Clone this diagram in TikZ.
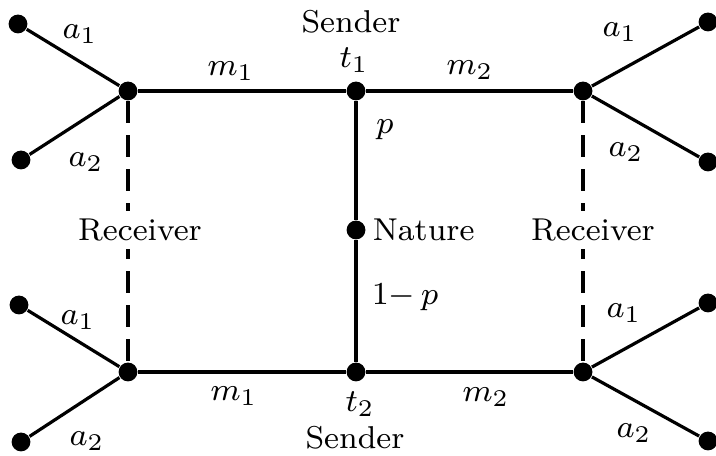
\documentclass[tikz,border=0pt]{standalone}
\usetikzlibrary{positioning}

\begin{document}
\begin{tikzpicture}[x=0.25pt, y=-0.25pt,
  every node/.style={font=\fontsize{7.9}{10}\selectfont},
  dot/.style={circle, fill=black, inner sep=0pt, minimum size=4.7pt},
  edge/.style={line width=0.8pt},
  info/.style={edge, dash pattern=on 5.5pt off 3pt},
  lbl/.style={inner sep=1pt},
  who/.style={fill=white, inner sep=2pt}]

\useasboundingbox (0,0) rectangle (716,456);

%% --- Decision nodes ---
\node[dot] (RU)  at (128, 91) {};
\node[dot] (T1)  at (356, 91) {};
\node[dot] (SU)  at (583, 91) {};
\node[dot] (NAT) at (356,230) {};
\node[dot] (RD)  at (128,372) {};
\node[dot] (T2)  at (356,372) {};
\node[dot] (SD)  at (583,372) {};

%% --- Terminal nodes ---
\node[dot] (LUa) at ( 18, 24) {};
\node[dot] (LUb) at ( 21,160) {};
\node[dot] (RUa) at (708, 22) {};
\node[dot] (RUb) at (708,162) {};
\node[dot] (LDa) at ( 19,305) {};
\node[dot] (LDb) at ( 21,442) {};
\node[dot] (RDa) at (708,303) {};
\node[dot] (RDb) at (708,441) {};

%% --- Tree edges ---
\draw[edge] (NAT) -- (T1);  \draw[edge] (NAT) -- (T2);
\draw[edge] (T1) -- (RU);   \draw[edge] (T1) -- (SU);
\draw[edge] (T2) -- (RD);   \draw[edge] (T2) -- (SD);
\draw[edge] (RU) -- (LUa);  \draw[edge] (RU) -- (LUb);
\draw[edge] (SU) -- (RUa);  \draw[edge] (SU) -- (RUb);
\draw[edge] (RD) -- (LDa);  \draw[edge] (RD) -- (LDb);
\draw[edge] (SD) -- (RDa);  \draw[edge] (SD) -- (RDb);

%% --- Information sets ---
\draw[info] (RU) -- (RD);
\draw[info] (SU) -- (SD);

%% --- Player labels ---
\node[who] (RECL) at (140,230) {Receiver};
\node[who] (RECR) at (593,230) {Receiver};
\node[lbl, anchor=west] (NATL) at (368,230) {Nature};
\node[lbl] (SENDU) at (351, 22) {Sender};
\node[lbl] (SENDD) at (355,438) {Sender};
\node[lbl] (TU) at (354, 60) {$t_1$};
\node[lbl] (TD) at (360,404) {$t_2$};

%% --- Move labels ---
\node[lbl] (PU) at (385,130) {$p$};
\node[lbl] (PD) at (405,297) {$1{-}\,p$};
\node[lbl] (MUl) at (231, 71) {$m_1$};
\node[lbl] (MUr) at (470, 70) {$m_2$};
\node[lbl] (MDl) at (234,396) {$m_1$};
\node[lbl] (MDr) at (486,397) {$m_2$};
\node[lbl] (AULa) at ( 80, 34) {$a_1$};
\node[lbl] (AULb) at ( 86,162) {$a_2$};
\node[lbl] (AURa) at (620, 32) {$a_1$};
\node[lbl] (AURb) at (626,152) {$a_2$};
\node[lbl] (ADLa) at ( 78,320) {$a_1$};
\node[lbl] (ADLb) at ( 87,441) {$a_2$};
\node[lbl] (ADRa) at (624,313) {$a_1$};
\node[lbl] (ADRb) at (634,433) {$a_2$};
\end{tikzpicture}
\end{document}
